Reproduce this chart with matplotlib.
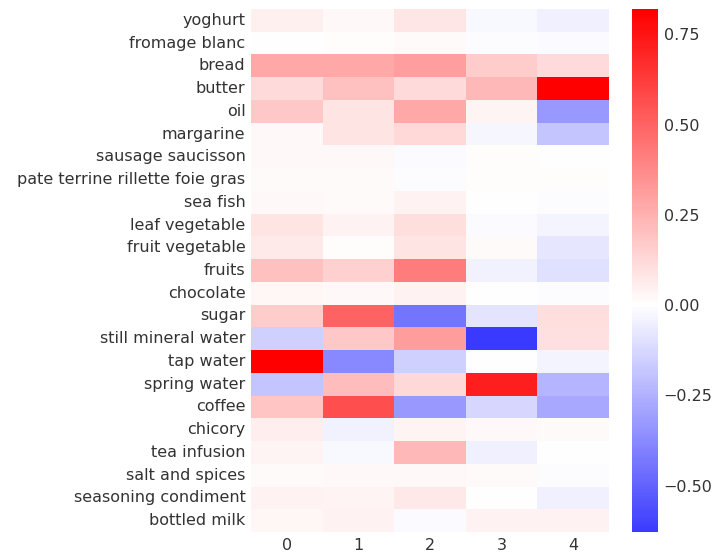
import matplotlib
matplotlib.use('Agg')
import matplotlib.pyplot as plt
import numpy as np
import pandas as pd
import seaborn as sns

foods = ['yoghurt', 'fromage blanc', 'bread', 'butter', 'oil', 'margarine',
         'sausage saucisson', 'pate terrine rillette foie gras', 'sea fish',
         'leaf vegetable', 'fruit vegetable', 'fruits', 'chocolate', 'sugar',
         'still mineral water', 'tap water', 'spring water', 'coffee', 'chicory',
         'tea infusion', 'salt and spices', 'seasoning condiment', 'bottled milk']
components = [0, 1, 2, 3, 4]

comp0 = [0.05, 0.005, 0.28, 0.12, 0.18, 0.02, 0.02, 0.015, 0.02, 0.085, 0.07, 0.20,
         0.03, 0.16, -0.15, 0.82, -0.19, 0.19, 0.055, 0.035, 0.015, 0.045, 0.03]
comp1 = [0.02, 0.01, 0.28, 0.20, 0.09, 0.09, 0.02, 0.015, 0.015, 0.04, 0.01, 0.15,
         0.025, 0.50, 0.18, -0.38, 0.21, 0.56, -0.04, -0.02, 0.02, 0.035, 0.045]
comp2 = [0.08, 0.015, 0.31, 0.12, 0.28, 0.125, -0.015, -0.01, 0.045, 0.105, 0.09, 0.42,
         0.04, -0.447, 0.32, -0.15, 0.125, -0.33, 0.035, 0.23, 0.025, 0.075, -0.015]
comp3 = [-0.02, -0.01, 0.16, 0.23, 0.035, -0.03, 0.01, 0.01, 0.0, -0.015, 0.015, -0.04,
         0.005, -0.09, -0.628, 0.005, 0.72, -0.125, 0.02, -0.05, 0.015, 0.005, 0.04]
comp4 = [-0.05, -0.015, 0.12, 0.82, -0.33, -0.19, 0.005, 0.01, -0.01, -0.035, -0.075, -0.10,
         -0.01, 0.105, 0.10, -0.035, -0.24, -0.28, 0.015, 0.005, -0.01, -0.05, 0.04]
cbar_ticks = [-0.5, -0.25, 0.0, 0.25, 0.5, 0.75]

df = pd.DataFrame(np.column_stack([comp0, comp1, comp2, comp3, comp4]),
                  index=foods, columns=components)

sns.set_theme()
fig = plt.figure(figsize=(7.27, 5.55), dpi=100)
ax = fig.add_axes([251 / 727, 1 - 532 / 555, 358 / 727, 523 / 555])
cax = fig.add_axes([632 / 727, 1 - 532 / 555, 26 / 727, 523 / 555])

sns.heatmap(df, cmap='bwr', center=0, ax=ax, cbar_ax=cax,
            cbar_kws={'ticks': cbar_ticks})
ax.tick_params(axis='y', rotation=0, length=0, pad=4, labelsize=11.5, labelcolor='#333333')
ax.tick_params(axis='x', length=0, pad=4, labelsize=11.5, labelcolor='#333333')
cax.tick_params(length=0, pad=4, labelsize=11.5, labelcolor='#333333')

fig.savefig('out.png', dpi=100, facecolor='white')
